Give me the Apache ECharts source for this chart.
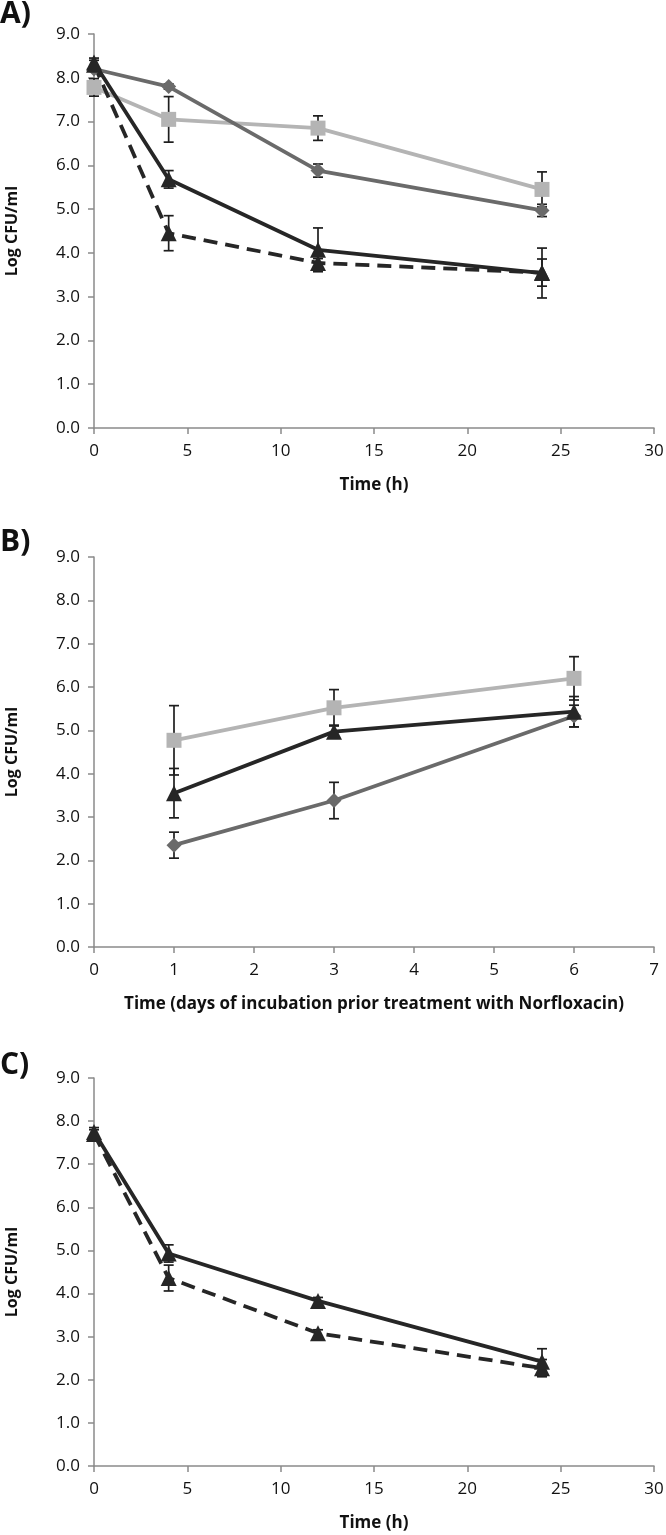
<!DOCTYPE html>
<html>
<head>
<meta charset="utf-8">
<script src="https://cdn.jsdelivr.net/npm/echarts@6/dist/echarts.min.js"></script>
<style>
html,body{margin:0;padding:0;background:#fff;}
#chart{width:666px;height:1535px;}
</style>
</head>
<body>
<div id="chart"></div>
<script>
// ---- Panel A: time (h) ----
const timeA = [0, 4, 12, 24];
const aLight = [7.78, 7.05, 6.85, 5.45];
const aLightErr = [0.2, 0.52, 0.28, 0.4];
const aDark = [8.2, 7.8, 5.88, 4.97];
const aDarkErr = [0.05, 0.06, 0.15, 0.14];
const aSolid = [8.35, 5.68, 4.07, 3.54];
const aSolidErr = [0.1, 0.2, 0.5, 0.57];
const aDash = [8.3, 4.45, 3.77, 3.55];
const aDashErr = [0.1, 0.4, 0.1, 0.31];

// ---- Panel B: days of incubation ----
const timeB = [1, 3, 6];
const bLight = [4.77, 5.52, 6.2];
const bLightErr = [0.8, 0.42, 0.5];
const bSolid = [3.55, 4.97, 5.43];
const bSolidErr = [0.57, 0.15, 0.35];
const bDark = [2.35, 3.38, 5.33];
const bDarkErr = [0.3, 0.42, 0.25];

// ---- Panel C: time (h) ----
const timeC = [0, 4, 12, 24];
const cSolid = [7.75, 4.93, 3.83, 2.42];
const cSolidErr = [0.1, 0.2, 0.08, 0.3];
const cDash = [7.7, 4.36, 3.08, 2.27];
const cDashErr = [0.1, 0.3, 0.08, 0.2];

const yTicks = [0, 1, 2, 3, 4, 5, 6, 7, 8, 9];

const FONT = 'Open Sans';
const LIGHT = '#b4b4b4';
const DARK = '#6a6a6a';
const BLACK = '#262626';
const AXIS = '#8a8a8a';

const grids = [
  {left: 94, right: 12, top: 34, height: 394, containLabel: false, outerBoundsMode: 'none'},
  {left: 94, right: 12, top: 557, height: 390, containLabel: false, outerBoundsMode: 'none'},
  {left: 94, right: 12, top: 1078, height: 388, containLabel: false, outerBoundsMode: 'none'}
];

function pairs(xs, ys) { return xs.map((x, i) => [x, ys[i]]); }
function triples(xs, ys, es) { return xs.map((x, i) => [x, ys[i], es[i]]); }

function yAxis(idx) {
  return {
    type: 'value', gridIndex: idx, min: yTicks[0], max: yTicks[yTicks.length - 1], interval: 1,
    name: 'Log CFU/ml', nameLocation: 'middle', nameGap: 74,
    nameTextStyle: {fontFamily: FONT, fontWeight: 'bold', fontSize: 16, color: '#111'},
    axisLine: {show: true, lineStyle: {color: AXIS, width: 1.5}},
    axisTick: {show: true, length: 6, lineStyle: {color: AXIS, width: 1.5}},
    splitLine: {show: false},
    axisLabel: {fontFamily: FONT, fontSize: 17, color: '#111', margin: 14,
      formatter: v => v.toFixed(1)}
  };
}
function xAxis(idx, max, name) {
  return {
    type: 'value', gridIndex: idx, min: 0, max: max, interval: max === 30 ? 5 : 1,
    name: name, nameLocation: 'middle', nameGap: 49,
    nameTextStyle: {fontFamily: FONT, fontWeight: 'bold', fontSize: 17, color: '#111'},
    axisLine: {show: true, onZero: false, lineStyle: {color: AXIS, width: 1.5}},
    axisTick: {show: true, length: 6, lineStyle: {color: AXIS, width: 1.5}},
    splitLine: {show: false},
    axisLabel: {fontFamily: FONT, fontSize: 17, color: '#111', margin: 15}
  };
}

function errSeries(idx, data) {
  return {
    type: 'custom', xAxisIndex: idx, yAxisIndex: idx, z: 3, silent: true,
    data: data,
    renderItem: function (params, api) {
      const x = api.value(0), y = api.value(1), e = api.value(2);
      const hi = api.coord([x, y + e]);
      const lo = api.coord([x, y - e]);
      const w = 5;
      const style = {stroke: '#1e1e1e', lineWidth: 1.7};
      return {
        type: 'group',
        children: [
          {type: 'line', shape: {x1: hi[0], y1: hi[1], x2: lo[0], y2: lo[1]}, style: style},
          {type: 'line', shape: {x1: hi[0] - w, y1: hi[1], x2: hi[0] + w, y2: hi[1]}, style: style},
          {type: 'line', shape: {x1: lo[0] - w, y1: lo[1], x2: lo[0] + w, y2: lo[1]}, style: style}
        ]
      };
    }
  };
}

function lineSeries(idx, data, color, symbol, size, dashed) {
  return {
    type: 'line', xAxisIndex: idx, yAxisIndex: idx, data: data, z: 4,
    symbol: symbol, symbolSize: size, showSymbol: true,
    itemStyle: {color: color, borderWidth: 0},
    lineStyle: {color: color, width: 3.8, type: dashed ? [14, 8] : 'solid'},
    animation: false
  };
}

const series = [
  errSeries(0, triples(timeA, aLight, aLightErr)),
  errSeries(0, triples(timeA, aDark, aDarkErr)),
  errSeries(0, triples(timeA, aSolid, aSolidErr)),
  errSeries(0, triples(timeA, aDash, aDashErr)),
  lineSeries(0, pairs(timeA, aLight), LIGHT, 'rect', 15),
  lineSeries(0, pairs(timeA, aDark), DARK, 'diamond', 15),
  lineSeries(0, pairs(timeA, aDash), BLACK, 'triangle', 16, true),
  lineSeries(0, pairs(timeA, aSolid), BLACK, 'triangle', 16),

  errSeries(1, triples(timeB, bLight, bLightErr)),
  errSeries(1, triples(timeB, bSolid, bSolidErr)),
  errSeries(1, triples(timeB, bDark, bDarkErr)),
  lineSeries(1, pairs(timeB, bLight), LIGHT, 'rect', 15),
  lineSeries(1, pairs(timeB, bDark), DARK, 'diamond', 15),
  lineSeries(1, pairs(timeB, bSolid), BLACK, 'triangle', 16),

  errSeries(2, triples(timeC, cSolid, cSolidErr)),
  errSeries(2, triples(timeC, cDash, cDashErr)),
  lineSeries(2, pairs(timeC, cDash), BLACK, 'triangle', 16, true),
  lineSeries(2, pairs(timeC, cSolid), BLACK, 'triangle', 16)
];

const panelLabel = (text, top) => ({
  type: 'text', left: 0, top: top,
  style: {text: text, fontFamily: FONT, fontWeight: 'bold', fontSize: 30, fill: '#111'}
});

const chart = echarts.init(document.getElementById('chart'), null, {renderer: 'canvas'});
chart.setOption({
  animation: false,
  backgroundColor: '#fff',
  grid: grids,
  xAxis: [
    xAxis(0, 30, 'Time (h)'),
    xAxis(1, 7, 'Time (days of incubation prior treatment with Norfloxacin)'),
    xAxis(2, 30, 'Time (h)')
  ],
  yAxis: [yAxis(0), yAxis(1), yAxis(2)],
  graphic: [panelLabel('A)', -1), panelLabel('B)', 527), panelLabel('C)', 1050)],
  series: series
});
</script>
</body>
</html>
